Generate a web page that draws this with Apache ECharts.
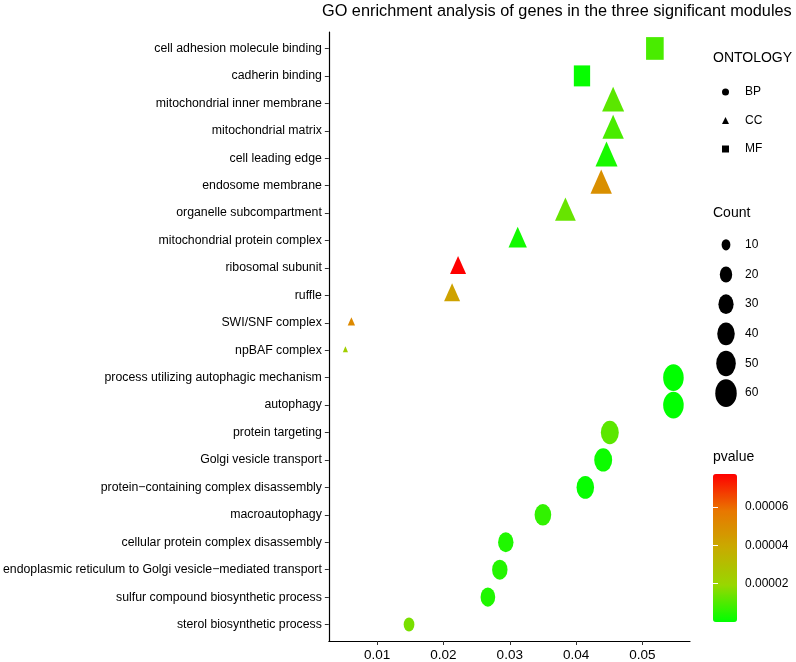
<!DOCTYPE html>
<html>
<head>
<meta charset="utf-8">
<title>GO enrichment</title>
<script src="https://cdn.jsdelivr.net/npm/echarts@6/dist/echarts.min.js"></script>
<style>
  html, body { margin: 0; padding: 0; background: #fff; }
  #main { width: 796px; height: 662px; }
</style>
</head>
<body>
<div id="main"></div>
<script>
// GO terms, top to bottom as plotted
const categories = [
  'cell adhesion molecule binding',
  'cadherin binding',
  'mitochondrial inner membrane',
  'mitochondrial matrix',
  'cell leading edge',
  'endosome membrane',
  'organelle subcompartment',
  'mitochondrial protein complex',
  'ribosomal subunit',
  'ruffle',
  'SWI/SNF complex',
  'npBAF complex',
  'process utilizing autophagic mechanism',
  'autophagy',
  'protein targeting',
  'Golgi vesicle transport',
  'protein\u2212containing complex disassembly',
  'macroautophagy',
  'cellular protein complex disassembly',
  'endoplasmic reticulum to Golgi vesicle\u2212mediated transport',
  'sulfur compound biosynthetic process',
  'sterol biosynthetic process'
];
const ontology = [
  'MF', 'MF',
  'CC', 'CC', 'CC', 'CC', 'CC', 'CC', 'CC', 'CC', 'CC', 'CC',
  'BP', 'BP', 'BP', 'BP', 'BP', 'BP', 'BP', 'BP', 'BP', 'BP'
];
const geneRatio = [
  0.0519, 0.0409,
  0.0456, 0.0456, 0.0446, 0.0438, 0.0384, 0.0312, 0.0222, 0.0213, 0.0061, 0.0052,
  0.0547, 0.0547, 0.0451, 0.0441, 0.0414, 0.0350, 0.0294, 0.0285, 0.0267, 0.0148
];
const counts = [
  55, 47,
  36, 34, 36, 34, 32, 25, 19, 19, 4, 2,
  55, 55, 42, 42, 40, 36, 31, 31, 28, 15
];
const pvalues = [
  9.3e-6, 8e-7,
  1.16e-5, 9.3e-6, 3.1e-6, 4.9e-5, 1.31e-5, 2.3e-6, 7.71e-5, 4.2e-5, 5.1e-5, 2.3e-5,
  2e-8, 3e-8, 1.16e-5, 1.5e-6, 8e-7, 6.2e-6, 3.9e-6, 4.6e-6, 3.9e-6, 1.54e-5
];

const ontologyLevels = ['BP', 'CC', 'MF'];
const countLevels = [10, 20, 30, 40, 50, 60];
const xTicks = [0.01, 0.02, 0.03, 0.04, 0.05];
const pTicks = [0.00002, 0.00004, 0.00006];
const pMin = 0;
const pMax = 0.0000771;
const xMin = 0.0027;
const xMax = 0.0572;

const font = 'Liberation Sans, Arial, sans-serif';
const shapes = { BP: 'circle', CC: 'triangle', MF: 'rect' };
// rendered picture is squeezed horizontally, so marks are taller than wide
const shapeScale = { BP: [0.77, 1], CC: [1.02, 1.15], MF: [0.66, 0.85] };

function markSize(count, onto) {
  const d = 3.6 * Math.sqrt(count);
  const s = shapeScale[onto];
  return [d * s[0], d * s[1]];
}

const yIdx = categories.map((c, i) => i);

const scatterSeries = ontologyLevels.map(onto => ({
  name: onto,
  type: 'scatter',
  xAxisIndex: 0,
  yAxisIndex: 0,
  symbol: shapes[onto],
  // R puts the triangle centroid on the point
  symbolOffset: onto === 'CC' ? [0, '-16.7%'] : [0, 0],
  symbolSize: val => markSize(val[2], onto),
  itemStyle: { color: '#000', opacity: 1 },
  emphasis: { scale: false },
  data: categories
    .map((c, i) => ({ name: c, value: [geneRatio[i], i, counts[i], pvalues[i]] }))
    .filter((d, i) => ontology[i] === onto)
}));

const countSeries = {
  name: 'Count',
  type: 'scatter',
  xAxisIndex: 1,
  yAxisIndex: 1,
  symbol: 'circle',
  symbolSize: val => markSize(val[2], 'BP'),
  itemStyle: { color: '#000', opacity: 1 },
  silent: true,
  data: countLevels.map((c, i) => [0, i, c])
};

const chart = echarts.init(document.getElementById('main'), null, { renderer: 'canvas' });

chart.setOption({
  animation: false,
  backgroundColor: '#fff',
  textStyle: { fontFamily: font },
  title: [
    {
      text: 'GO enrichment analysis of genes in the three significant modules',
      left: 322, top: 4, padding: 0,
      textStyle: { fontSize: 16.3, fontWeight: 'normal', color: '#000', fontFamily: font }
    },
    {
      text: 'ONTOLOGY', left: 713, top: 51, padding: 0,
      textStyle: { fontSize: 14, fontWeight: 'normal', color: '#000', fontFamily: font }
    },
    {
      text: 'Count', left: 713, top: 206, padding: 0,
      textStyle: { fontSize: 14, fontWeight: 'normal', color: '#000', fontFamily: font }
    },
    {
      text: 'pvalue', left: 713, top: 450, padding: 0,
      textStyle: { fontSize: 14, fontWeight: 'normal', color: '#000', fontFamily: font }
    }
  ],
  tooltip: {
    trigger: 'item',
    formatter: p => p.seriesIndex > 2 ? '' :
      p.name + '<br/>GeneRatio: ' + p.value[0] + '<br/>Count: ' + p.value[2] +
      '<br/>pvalue: ' + p.value[3].toExponential(2)
  },
  legend: {
    data: ontologyLevels.map(o => ({ name: o, icon: shapes[o] })),
    orient: 'vertical',
    left: 722,
    top: 86,
    padding: 0,
    itemWidth: 7,
    itemHeight: 7,
    itemGap: 16.5,
    itemStyle: { color: '#000' },
    textStyle: { fontSize: 12, color: '#000', fontFamily: font, padding: [0, 0, 0, 11] }
  },
  grid: [
    { left: 327, right: 106, top: 32, bottom: 21 },
    { left: 715, top: 230, width: 22, height: 178 },
    { left: 713, top: 474, width: 24, height: 148 }
  ],
  xAxis: [
    {
      type: 'value',
      gridIndex: 0,
      min: xMin,
      max: xMax,
      axisLine: { onZero: false, lineStyle: { color: '#000', width: 1.2 } },
      axisTick: { length: 4, lineStyle: { color: '#333' }, customValues: xTicks },
      axisLabel: {
        customValues: xTicks,
        formatter: v => v.toFixed(2),
        fontSize: 13.5, color: '#000', margin: 7, fontFamily: font
      },
      splitLine: { show: false }
    },
    { type: 'category', gridIndex: 1, data: ['c'], show: false },
    { type: 'value', gridIndex: 2, show: false, min: 0, max: 1 }
  ],
  yAxis: [
    {
      type: 'value',
      gridIndex: 0,
      inverse: true,
      min: -0.6,
      max: categories.length - 0.4,
      axisLine: { show: true, onZero: false, lineStyle: { color: '#000', width: 1.2 } },
      axisTick: { show: true, length: 4, lineStyle: { color: '#333' }, customValues: yIdx },
      axisLabel: {
        customValues: yIdx,
        formatter: v => categories[Math.round(v)],
        fontSize: 12.3, color: '#000', margin: 7, fontFamily: font
      },
      splitLine: { show: false }
    },
    {
      type: 'category',
      gridIndex: 1,
      inverse: true,
      position: 'right',
      data: countLevels.map(String),
      axisLine: { show: false },
      axisTick: { show: false },
      axisLabel: { fontSize: 12, color: '#000', margin: 8, fontFamily: font }
    },
    {
      type: 'value',
      gridIndex: 2,
      position: 'right',
      min: pMin,
      max: pMax,
      z: 10,
      axisLine: { show: false },
      axisTick: { show: true, inside: true, length: 5, lineStyle: { color: '#fff', width: 1 }, customValues: pTicks },
      axisLabel: {
        customValues: pTicks,
        formatter: v => v.toFixed(5),
        fontSize: 12, color: '#000', margin: 8, fontFamily: font
      },
      splitLine: { show: false }
    },
    {
      type: 'value',
      gridIndex: 2,
      position: 'left',
      min: pMin,
      max: pMax,
      z: 10,
      axisLine: { show: false },
      axisTick: { show: true, inside: true, length: 5, lineStyle: { color: '#fff', width: 1 }, customValues: pTicks },
      axisLabel: { show: false },
      splitLine: { show: false }
    }
  ],
  visualMap: {
    type: 'continuous',
    seriesIndex: [0, 1, 2],
    dimension: 3,
    min: pMin,
    max: pMax,
    left: 713,
    top: 474,
    itemWidth: 24,
    itemHeight: 148,
    padding: 0,
    calculable: false,
    hoverLink: false,
    text: null,
    inRange: { color: ['#00ff00', '#98d700', '#c8ab00', '#e87700', '#ff0000'] }
  },
  series: scatterSeries.concat([countSeries])
});
</script>
</body>
</html>
